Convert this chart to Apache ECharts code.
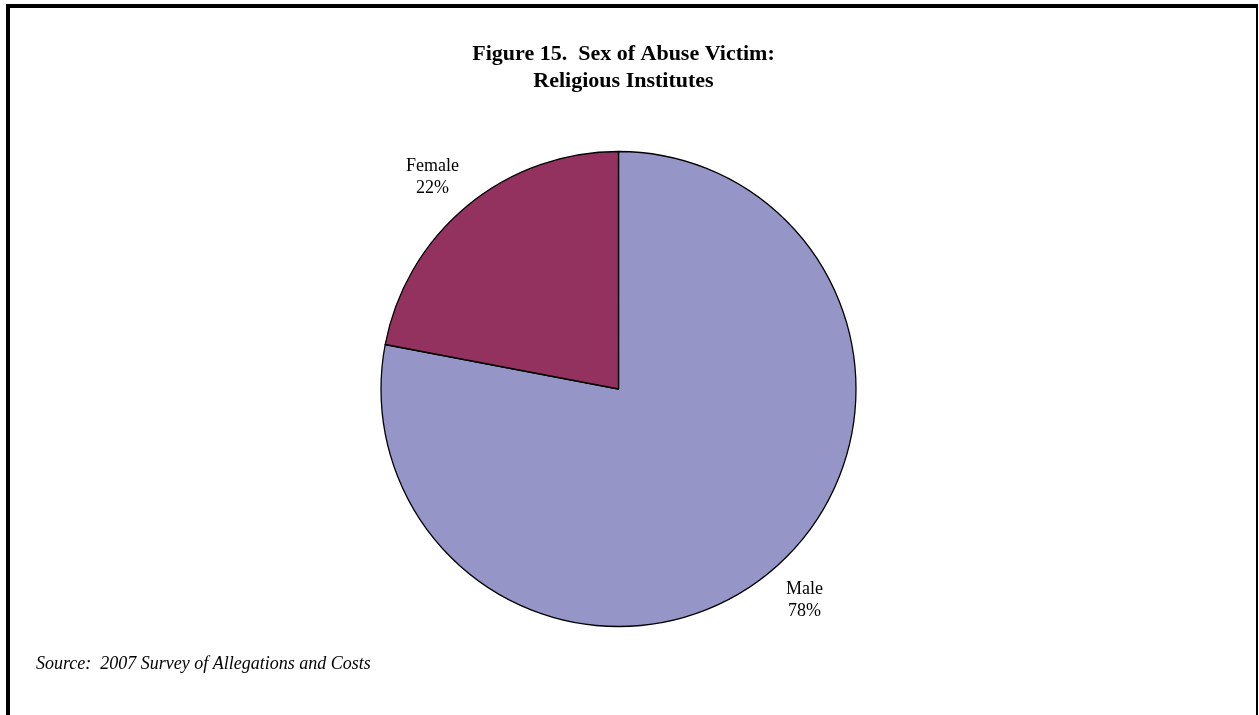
<!DOCTYPE html>
<html>
<head>
<meta charset="utf-8">
<script src="https://cdn.jsdelivr.net/npm/echarts@6/dist/echarts.min.js"></script>
<style>
  html, body { margin: 0; padding: 0; background: #ffffff; }
  #chart { width: 1259px; height: 715px; }
</style>
</head>
<body>
<div id="chart"></div>
<script>
// ---- data ----
const categories = ['Male', 'Female'];
const percents = [78, 22];
const sliceColors = ['#9595c8', '#93325e'];
const titleLines = ['Figure 15.  Sex of Abuse Victim:', 'Religious Institutes'];
const sourceNote = 'Source:  2007 Survey of Allegations and Costs';

const serif = '"Liberation Serif", "Times New Roman", "DejaVu Serif", serif';

const chart = echarts.init(document.getElementById('chart'), null, { renderer: 'canvas' });

const pieData = categories.map((c, i) => ({
  name: c,
  value: percents[i],
  itemStyle: { color: sliceColors[i] }
}));

chart.setOption({
  backgroundColor: '#ffffff',
  animation: false,
  title: {
    text: titleLines.join('\n'),
    left: 618.5,
    textAlign: 'center',
    top: 36,
    textStyle: {
      fontFamily: serif,
      fontWeight: 'bold',
      fontSize: 22,
      lineHeight: 27,
      color: '#000000'
    }
  },
  series: [{
    type: 'pie',
    center: [618.5, 389],
    radius: 237.5,
    startAngle: 90,
    clockwise: true,
    avoidLabelOverlap: false,
    data: pieData,
    itemStyle: { borderColor: '#000000', borderWidth: 1.3 },
    label: {
      show: true,
      position: 'outside',
      formatter: p => p.name + '\n' + p.value + '%',
      fontFamily: serif,
      fontSize: 18,
      lineHeight: 22,
      color: '#000000',
      distanceToLabelLine: 11
    },
    labelLine: { show: false, length: 37, length2: 0 },
    labelLayout: { align: 'center' },
    emphasis: { disabled: true }
  }],
  graphic: [
    { type: 'rect', shape: { x: 6, y: 4, width: 1252, height: 4 }, style: { fill: '#000000' }, silent: true },
    { type: 'rect', shape: { x: 6, y: 4, width: 4, height: 711 }, style: { fill: '#000000' }, silent: true },
    { type: 'rect', shape: { x: 1256, y: 4, width: 2, height: 711 }, style: { fill: '#000000' }, silent: true },
    {
      type: 'text',
      left: 36,
      top: 655,
      style: {
        text: sourceNote,
        fontFamily: serif,
        fontStyle: 'italic',
        fontSize: 18,
        fill: '#000000'
      },
      silent: true
    }
  ]
});
</script>
</body>
</html>
